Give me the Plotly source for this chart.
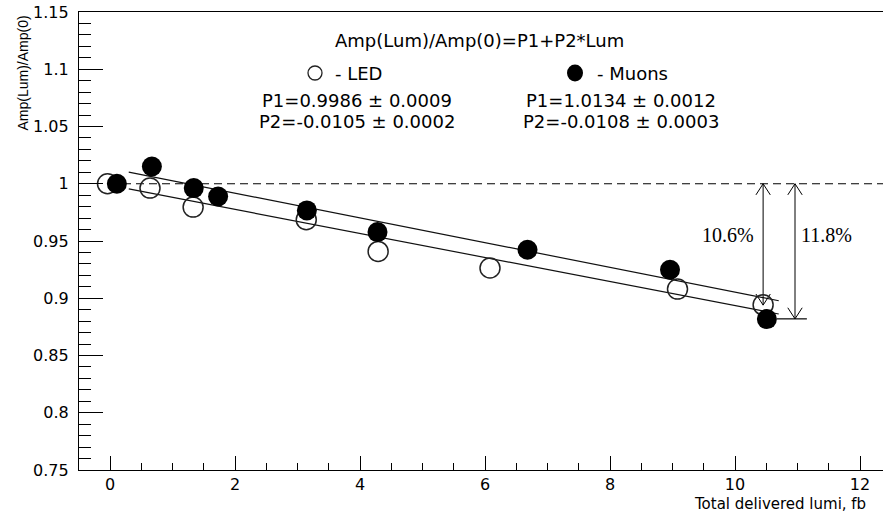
import plotly.graph_objects as go

# ---------------- data ----------------
led_x = [-0.04, 0.64, 1.33, 3.14, 4.29, 6.08, 9.08, 10.45]
led_y = [1.000, 0.9962, 0.9796, 0.9686, 0.9409, 0.9264, 0.908, 0.8943]
mu_x = [0.11, 0.67, 1.34, 1.73, 3.15, 4.28, 6.68, 8.96, 10.51]
mu_y = [1.000, 1.0151, 0.9962, 0.9889, 0.9767, 0.9578, 0.9424, 0.9249, 0.8818]

led_p1, led_p2 = 0.9986, -0.0105
mu_p1, mu_p2 = 1.0134, -0.0108
fit_range = [0.3, 10.7]

arrow_x = [10.45, 10.96]
drops = [10.6, 11.8]          # percent
drop_labels = ["10.6%", "11.8%"]
label_x = [9.89, 11.47]
label_y = 0.9555
base_line_x = [10.67, 11.15]

x_range = [-0.496, 12.368]
y_range = [0.75, 1.15]

# ---------------- figure ----------------
W, H = 883, 516
ML, MR, MT, MB = 79, 0, 12, 46
PW, PH = W - ML - MR, H - MT - MB


def px(x):
    return (x - ML) / PW


def py(y):
    return (H - MB - y) / PH


fig = go.Figure()

# reference dashed line at 1
fig.add_trace(go.Scatter(x=[0, x_range[1]], y=[1, 1], mode="lines",
                         line=dict(color="black", width=1, dash="8px,5px"),
                         hoverinfo="skip", showlegend=False))

# fit lines
for p1, p2 in [(led_p1, led_p2), (mu_p1, mu_p2)]:
    fig.add_trace(go.Scatter(x=fit_range, y=[p1 + p2 * v for v in fit_range],
                             mode="lines", line=dict(color="#111", width=1.2),
                             hoverinfo="skip", showlegend=False))

# arrows (double headed, open V heads)
dx, dy = 0.115, 0.0097
for ax_, d in zip(arrow_x, drops):
    ye = 1 - d / 100
    xs = [ax_ - dx, ax_, ax_ + dx, None, ax_, ax_, None, ax_ - dx, ax_, ax_ + dx]
    ys = [1 - dy, 1, 1 - dy, None, 1, ye, None, ye + dy, ye, ye + dy]
    fig.add_trace(go.Scatter(x=xs, y=ys, mode="lines",
                             line=dict(color="black", width=1),
                             hoverinfo="skip", showlegend=False))

fig.add_trace(go.Scatter(x=base_line_x, y=[1 - drops[1] / 100] * 2, mode="lines",
                         line=dict(color="black", width=1.2),
                         hoverinfo="skip", showlegend=False))

# markers
fig.add_trace(go.Scatter(x=led_x, y=led_y, mode="markers", name="LED",
                         marker=dict(symbol="circle-open", size=20, color="#222",
                                     line=dict(color="#222", width=1.5)),
                         showlegend=False))
fig.add_trace(go.Scatter(x=mu_x, y=mu_y, mode="markers", name="Muons",
                         marker=dict(symbol="circle", size=20, color="black",
                                     line=dict(width=0)),
                         showlegend=False))

sans = "DejaVu Sans"
ann = []


def text(s, x, y, size=18, font=sans, xanchor="center", **kw):
    ann.append(dict(text=s, x=px(x), y=py(y), xref="paper", yref="paper",
                    xanchor=xanchor, yanchor="middle", showarrow=False,
                    font=dict(family=font, size=size, color="black"), **kw))


text("Amp(Lum)/Amp(0)=P1+P2*Lum", 479, 41)
text("- LED", 333, 73, xanchor="left")
text("- Muons", 595, 73, xanchor="left")
text(f"P1={led_p1:.4f} ± 0.0009", 357, 100)
text(f"P2={led_p2:.4f} ± 0.0002", 357, 121)
text(f"P1={mu_p1:.4f} ± 0.0012", 621, 100)
text(f"P2={mu_p2:.4f} ± 0.0003", 621, 121)
text("Total delivered lumi, fb", 868, 504, size=15, xanchor="right")

for s, lx in zip(drop_labels, label_x):
    ann.append(dict(text=s, x=lx, y=label_y, xref="x", yref="y",
                    showarrow=False,
                    font=dict(family="Liberation Serif", size=20, color="black")))

# y title (rotated, top aligned)
ann.append(dict(text="Amp(Lum)/Amp(0)", x=px(22), y=py(14), xref="paper",
                yref="paper", xanchor="center", yanchor="top", textangle=-90,
                showarrow=False, font=dict(family="Liberation Sans", size=14,
                                           color="black")))

shapes = [
    dict(type="circle", xref="paper", yref="paper", xsizemode="pixel",
         ysizemode="pixel", xanchor=px(315), yanchor=py(73),
         x0=-7, x1=7, y0=-7, y1=7, line=dict(color="#222", width=1.3)),
    dict(type="circle", xref="paper", yref="paper", xsizemode="pixel",
         ysizemode="pixel", xanchor=px(575), yanchor=py(73),
         x0=-8, x1=8, y0=-8.5, y1=8.5, fillcolor="black",
         line=dict(color="black", width=0)),
]

fig.update_layout(
    width=W, height=H, margin=dict(l=ML, r=MR, t=MT, b=MB, pad=0,
                                   autoexpand=False),
    paper_bgcolor="white", plot_bgcolor="white",
    annotations=ann, shapes=shapes, showlegend=False,
    font=dict(family=sans, color="black"),
)
fig.update_xaxes(range=x_range, showgrid=False, zeroline=False, automargin=False,
                 showline=True, linecolor="black", linewidth=1.2, mirror=True,
                 ticks="inside", ticklen=14, tickwidth=1.2, tickcolor="black",
                 tick0=0, dtick=2,
                 minor=dict(ticks="inside", dtick=0.5, ticklen=7,
                            tickcolor="black", tickwidth=1.2, showgrid=False),
                 tickfont=dict(family=sans, size=16, color="black"))
fig.update_yaxes(range=y_range, showgrid=False, zeroline=False, automargin=False,
                 showline=True, linecolor="black", linewidth=1.2, mirror=False,
                 ticks="inside", ticklen=24, tickwidth=1.2, tickcolor="black",
                 tick0=0.75, dtick=0.05, ticklabelstandoff=6,
                 minor=dict(ticks="inside", dtick=0.01, ticklen=12,
                            tickcolor="black", tickwidth=1.2, showgrid=False),
                 tickfont=dict(family=sans, size=16, color="black"))

fig.write_html("out.html",
               config={"displayModeBar": False},
               post_script="document.body.style.margin='0';"
                           "document.body.style.overflow='hidden';")
